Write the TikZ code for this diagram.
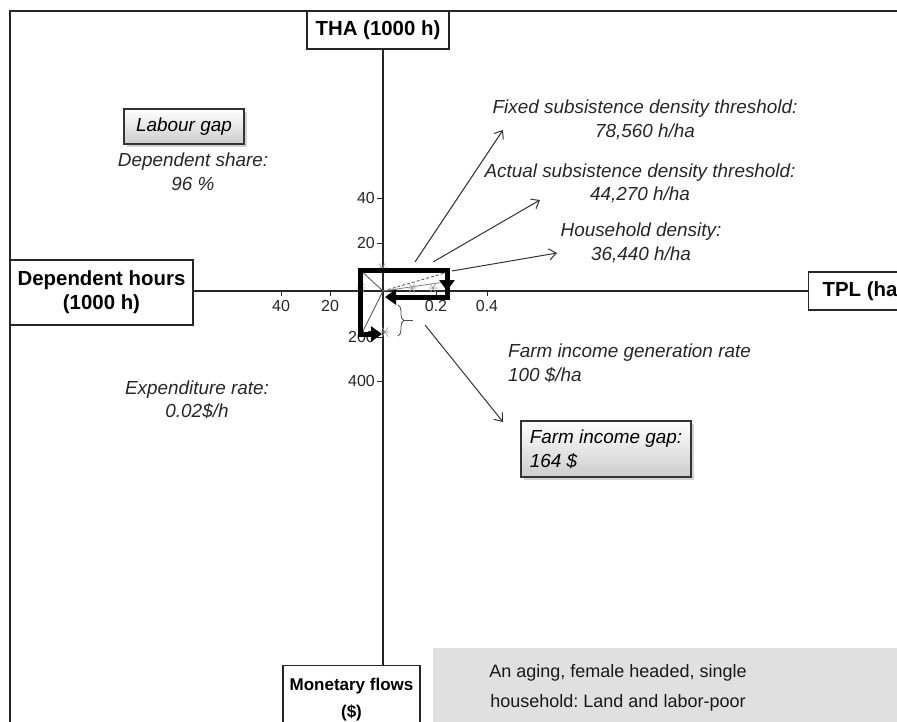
\documentclass[tikz,border=0pt]{standalone}
\usepackage{fontspec}
\setmainfont{Liberation Sans}
\usetikzlibrary{arrows.meta,shadows,decorations.pathreplacing}

\tikzset{
  axisbox/.style={draw=black!85, line width=1.3pt, fill=white, inner sep=0pt,
    font=\bfseries\fontsize{20.4}{24}\selectfont, align=center},
  gapbox/.style={draw=black!80, line width=1.2pt, top color=white, bottom color=black!20,
    drop shadow={shadow xshift=2.5pt, shadow yshift=-3pt, opacity=0.35},
    font=\itshape\fontsize{18.9}{24}\selectfont},
  lbl/.style={font=\itshape\fontsize{18.9}{23.5}\selectfont, align=center, inner sep=0pt, text=black!85},
  ticklbl/.style={font=\fontsize{16}{18}\selectfont, inner sep=0pt, text=black!85},
  axisline/.style={draw=black!85, line width=1.3pt},
  pointer/.style={draw=black!80, line width=1pt, -{Straight Barb[length=7pt,width=11pt]}},
  flow/.style={line width=5pt, black},
  thinline/.style={draw=black!70, line width=0.8pt},
  hhmark/.pic={\draw[gray!75, line width=0.7pt] (-4.5,0) -- (4.5,0) (-3,-4.5) -- (3,4.5) (-3,4.5) -- (3,-4.5);}
}

\begin{document}
\frenchspacing
\begin{tikzpicture}[x=1pt,y=-1pt]
  \useasboundingbox (0,0) rectangle (897,722);
  \clip (0,0) rectangle (897,722);

  % Outer frame
  \draw[line width=1.3pt, black!85] (10,730) -- (10,11) -- (905,11);

  % Grey caption panel
  \fill[black!12] (433,648) rectangle (905,730);
  \node[font=\fontsize{18}{30}\selectfont, align=center, text=black!90] (note) at (618,688)
    {An aging, female headed, single\\household: Land and labor-poor};

  % Axis boxes
  \coordinate (o) at (383,291);
  \node[axisbox, minimum width=142pt, minimum height=38pt] (tha) at (378,30) {THA (1000 h)};
  \node[axisbox, minimum width=183pt, minimum height=65pt] (dep) at (101.5,292.5) {Dependent hours\\(1000 h)};
  \node[axisbox, anchor=west, minimum height=38pt, inner xsep=14pt] (tpl) at (808,291) {TPL (ha)};
  \node[axisbox, anchor=north, minimum width=137pt, minimum height=68pt,
    font=\bfseries\fontsize{17}{27}\selectfont] (mon) at (351.5,665) {Monetary flows\\(\$)};

  % Drawing the axes
  \draw[axisline] (tha.south -| o) -- (mon.north -| o);
  \draw[axisline] (dep.east |- o) -- (tpl.west |- o);

  % Tick marks
  \foreach \y/\t in {198/40, 243/20, 337/200, 381/400}{
    \draw[axisline, line width=0.8pt] (377,\y) -- (383,\y);
    \node[ticklbl, anchor=east] (vt\t) at (375,\y) {\t};
  }
  \foreach \x/\t [count=\i] in {281/40, 330/20, 436/0.2, 487/0.4}{
    \draw[axisline, line width=0.8pt] (\x,291) -- (\x,296);
    \node[ticklbl, anchor=north] (ht\i) at (\x,300) {\t};
  }

  % Thin lines through the origin
  \draw[thinline] (360,270) -- (o);
  \draw[thinline] (o) -- (362,333);
  \draw[thinline, densely dashed] (o) -- (445,273);
  \draw[thinline, draw=gray] (o) -- (445,282);

  % Marking points by asterisks
  \pic at (382,268) {hhmark};
  \pic at (361,288) {hhmark};
  \pic at (412,288) {hhmark};
  \pic at (433,288) {hhmark};
  \pic at (385,332) {hhmark};

  % Drawing the flow loop
  \draw[flow, {Triangle[length=11pt,width=15pt]}-{Triangle[length=11pt,width=15pt]}]
    (382,334) -- (360,334) -- (360,270) -- (447,270) -- (447,291);
  \draw[flow, -{Triangle[length=11pt,width=15pt]}] (447,280) -- (447,297) -- (385,297);

  % Brace
  \draw[gray!60!black, line width=0.8pt, decorate, decoration={brace, amplitude=6pt}] (398,305) -- (398,336);
  \draw[gray!60!black, line width=0.8pt] (404,320.5) -- (413,320.5);

  % Pointer arrows
  \coordinate (fixS) at (415,262);
  \coordinate (fixE) at (503,130);
  \coordinate (actS) at (433,262);
  \coordinate (actE) at (540,200);
  \coordinate (hhS) at (452,271);
  \coordinate (hhE) at (557,253);
  \coordinate (incS) at (425,325);
  \coordinate (incE) at (503,422);
  \draw[pointer] (fixS) -- (fixE);
  \draw[pointer] (actS) -- (actE);
  \draw[pointer] (hhS) -- (hhE);
  \draw[pointer] (incS) -- (incE);

  % Labels
  \node[lbl] (fixlbl) at (645,120) {Fixed subsistence density threshold:\\78,560 h/ha};
  \node[lbl] (actlbl) at (640,183.5) {Actual subsistence density threshold:\\44,270 h/ha};
  \node[lbl] (hhlbl) at (641,243) {Household density:\\36,440 h/ha};
  \node[lbl, anchor=west, align=left] (genlbl) at (508,363.5) {Farm income generation rate\\100 \$/ha};
  \node[lbl] (sharelbl) at (193,171.5) {Dependent share:\\96 \%};
  \node[lbl] (explbl) at (197,400) {Expenditure rate:\\0.02\$/h};

  % Gap boxes
  \node[gapbox, minimum width=120pt, minimum height=35pt] (labgap) at (184,126.5) {Labour gap};
  \node[gapbox, minimum width=170pt, minimum height=56pt, align=left]
    (incgap) at (606,449) {Farm income gap:\\164 \$};
\end{tikzpicture}
\end{document}
